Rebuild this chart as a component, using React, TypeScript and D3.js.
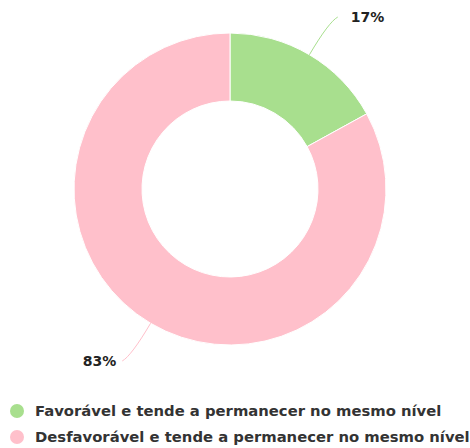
import * as d3 from 'd3'
import { useEffect, useRef } from 'react'

const W = 470
const H = 448

const categories = [
  'Favorável e tende a permanecer no mesmo nível',
  'Desfavorável e tende a permanecer no mesmo nível',
]
const values = [17, 83]
const colors = ['#a8df8e', '#ffc0cb']

const cx = 230
const cy = 189
const outerR = 156
const innerR = 88

export default function App() {
  const ref = useRef<SVGSVGElement>(null)

  useEffect(() => {
    const svg = d3.select(ref.current)
    svg.selectAll('*').remove()

    const pie = d3.pie<number>().sort(null)(values)
    const arc = d3.arc<d3.PieArcDatum<number>>().innerRadius(innerR).outerRadius(outerR)

    const g = svg.append('g').attr('transform', `translate(${cx},${cy})`)

    g.selectAll('path.slice')
      .data(pie)
      .join('path')
      .attr('class', 'slice')
      .attr('d', arc)
      .attr('fill', (_, i) => colors[i])
      .attr('stroke', '#fff')
      .attr('stroke-width', 1)

    const total = d3.sum(values)
    const pt = (a: number, r: number): [number, number] => [Math.sin(a) * r, -Math.cos(a) * r]

    pie.forEach((d, i) => {
      const mid = (d.startAngle + d.endAngle) / 2
      const right = Math.sin(mid) >= 0
      const p0 = pt(mid, outerR)
      const p1 = pt(mid, outerR + 38)
      const p2: [number, number] = [p1[0] + (right ? 9 : -9), p1[1] + (right ? -5 : 5)]
      g.append('path')
        .attr('d', `M${p0[0]},${p0[1]}Q${p1[0]},${p1[1]} ${p2[0]},${p2[1]}`)
        .attr('fill', 'none')
        .attr('stroke', colors[i])
        .attr('stroke-width', 1)
      g.append('text')
        .attr('x', p2[0] + (right ? 13 : -6))
        .attr('y', p2[1] + 5)
        .attr('text-anchor', right ? 'start' : 'end')
        .attr('font-family', 'DejaVu Sans, Verdana, sans-serif')
        .attr('font-weight', 'bold')
        .attr('font-size', 14)
        .attr('fill', '#222')
        .text(`${Math.round((d.data / total) * 100)}%`)
    })

    const legend = svg
      .append('g')
      .selectAll('g')
      .data(categories)
      .join('g')
      .attr('transform', (_, i) => `translate(17,${411 + i * 26})`)
    legend.append('circle').attr('r', 7).attr('fill', (_, i) => colors[i])
    legend
      .append('text')
      .attr('x', 18)
      .attr('y', 5)
      .attr('font-family', 'DejaVu Sans, Verdana, sans-serif')
      .attr('font-weight', 'bold')
      .attr('font-size', 14.8)
      .attr('fill', '#333')
      .text((d) => d)
  }, [])

  return (
    <svg
      ref={ref}
      width={W}
      height={H}
      style={{ position: 'absolute', left: 0, top: 0, background: '#fff' }}
    />
  )
}
